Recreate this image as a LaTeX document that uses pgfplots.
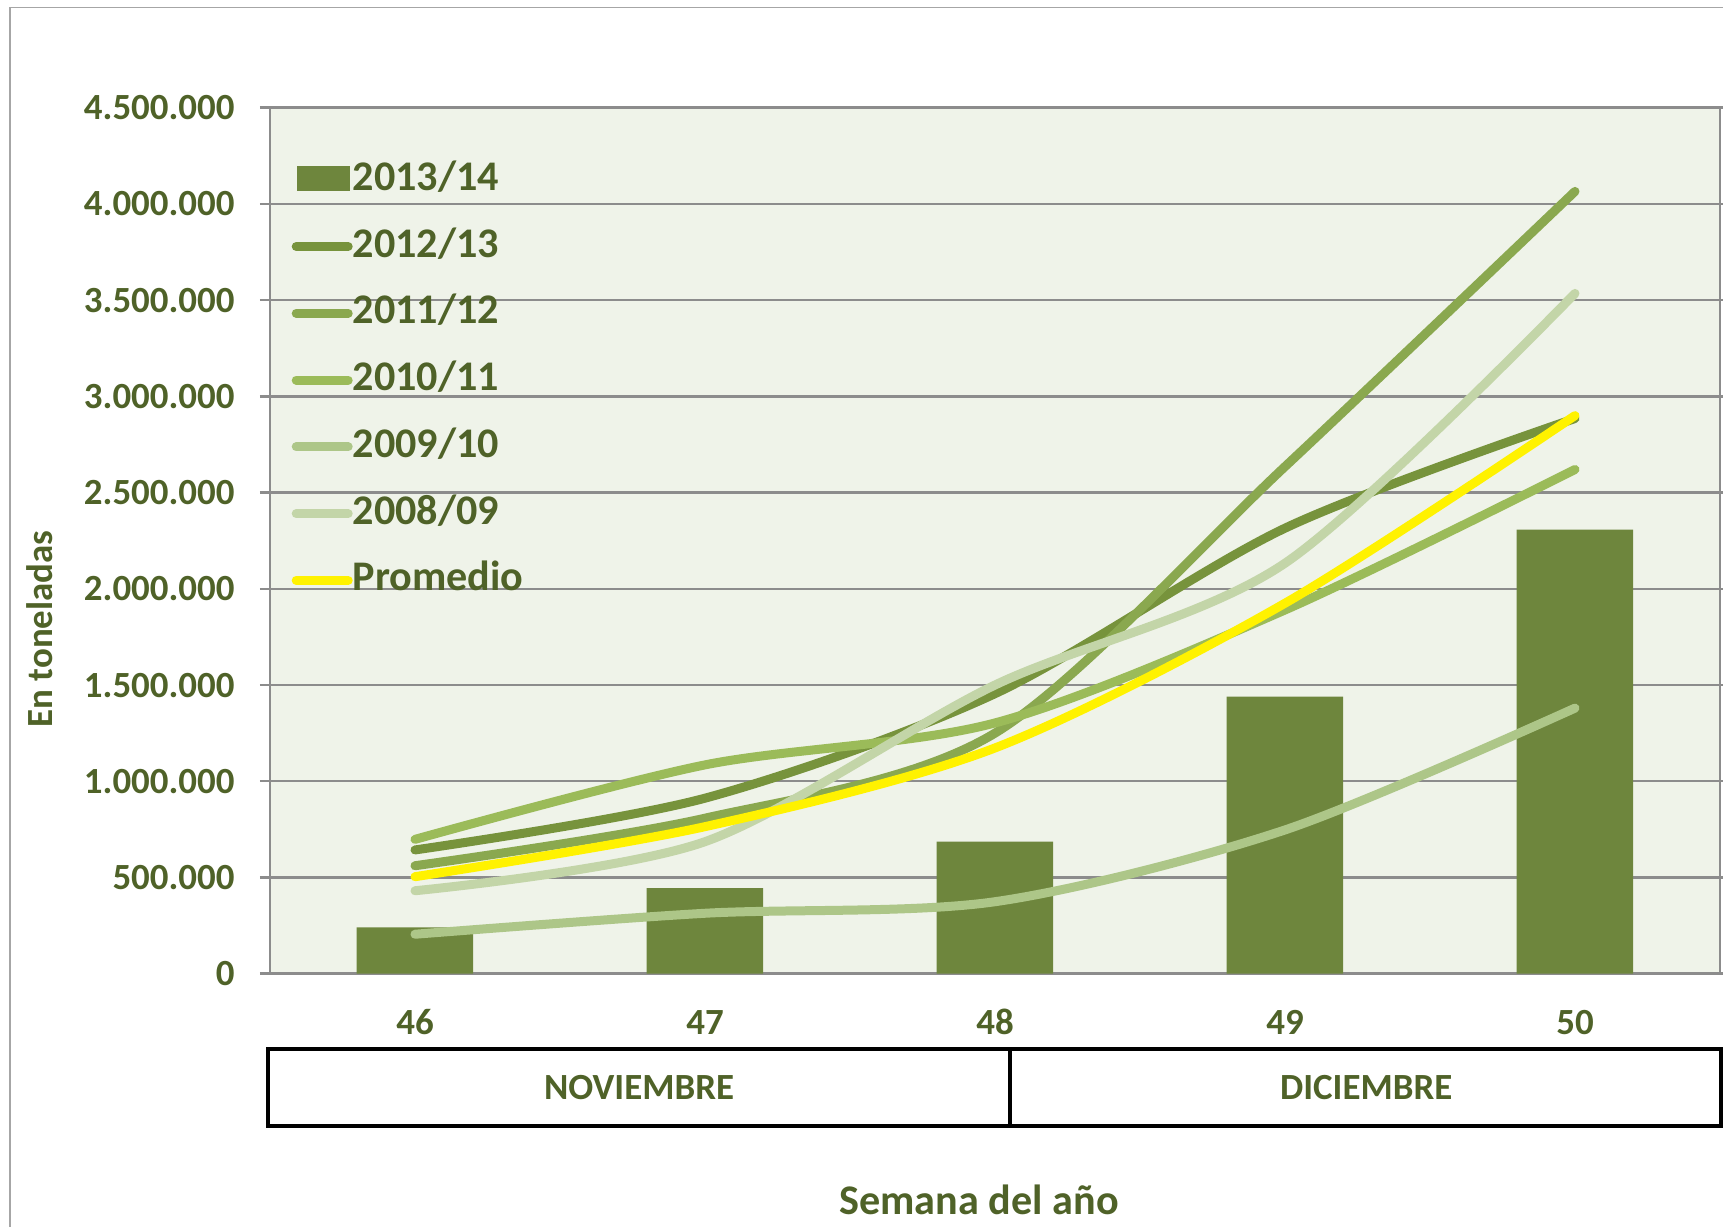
\documentclass[border=0pt]{standalone}
\usepackage{pgfplots}
\pgfplotsset{compat=1.18}
\usepackage{pgfplotstable}
\usepackage{fontspec}
\setmainfont{Carlito}

\definecolor{txt}{HTML}{4F6228}
\definecolor{barc}{HTML}{6E863D}
\definecolor{c1213}{HTML}{77933C}
\definecolor{c1112}{HTML}{8AA84F}
\definecolor{c1011}{HTML}{9BBB59}
\definecolor{c0910}{HTML}{ADC688}
\definecolor{c0809}{HTML}{C3D5A8}
\definecolor{plotbg}{HTML}{EFF3E9}
\definecolor{gridc}{HTML}{8C8C8C}

% toneladas por semana
\pgfplotstableread{
wk t1314   t1213   t1112   t1011   t0910   t0809   prom
46 241000  643000  561000  698000  205000  431000  504000
47 444000  912000  808000  1085000 314000  686000  764000
48 686000  1455000 1250000 1303000 374000  1500000 1173000
49 1440000 2315000 2635000 1890000 747000  2133000 1925000
50 2308000 2885000 4065000 2620000 1380000 3535000 2900000
}\datatable

\begin{document}
\begin{tikzpicture}
\useasboundingbox (0,0) rectangle (172.3mm,122.7mm);
\draw[gray!70, line width=0.4pt] (1.0mm,0) -- (1.0mm,121.95mm) -- (172.3mm,121.95mm);
\begin{axis}[
    at={(27mm,25.33mm)}, anchor=south west,
    scale only axis, width=145mm, height=86.6mm,
    xmin=45.5, xmax=50.5, ymin=0, ymax=4500000,
    clip=false,
    axis background/.style={fill=plotbg},
    axis line style={gridc, line width=0.7pt},
    ymajorgrids, grid style={gridc, line width=0.7pt},
    tick align=outside, major tick length=1mm,
    tick style={gridc, line width=0.7pt},
    scaled y ticks=false,
    ytick={0,500000,1000000,1500000,2000000,2500000,3000000,3500000,4000000,4500000},
    yticklabels={0,500.000,1.000.000,1.500.000,2.000.000,2.500.000,3.000.000,3.500.000,4.000.000,4.500.000},
    xtick={46,47,48,49,50}, xticklabels={46,47,48,49,50},
    xtick style={draw=none},
    extra x ticks={45.5,46.5,47.5,48.5,49.5,50.5}, extra x tick labels={},
    extra x tick style={major tick length=1.2mm, tick style={draw=gridc}},
    /pgf/number format/assume math mode=true,
    tick label style={font=\bfseries\fontsize{10.5}{12.5}\selectfont, text=txt},
    yticklabel style={xshift=-1.3mm},
    xticklabel style={anchor=base, yshift=-5.1mm},
    ylabel={En toneladas},
    every axis y label/.style={at={(axis description cs:-0.1586,0.398)}, rotate=90, anchor=center,
        font=\bfseries\fontsize{10.5}{12}\selectfont, text=txt},
    xlabel={Semana del año},
    every axis x label/.style={at={(axis description cs:0.489,-0.2775)}, anchor=base,
        font=\bfseries\fontsize{12}{14}\selectfont, text=txt},
    legend style={draw=none, fill=none, inner sep=0pt, at={(axis description cs:0.0145,0.942)},
        anchor=north west, row sep=7pt, column sep=0pt,
        nodes={inner sep=0pt, text height=9pt, text depth=3pt, text=txt,
            font=\bfseries\fontsize{12}{14}\selectfont}},
    legend cell align=left,
    legend image code/.code={\draw[#1, line cap=round] (0.3mm,0pt) -- (5.5mm,0pt);},
]
\addplot[ybar, bar width=11.65mm, bar shift=0pt, fill=barc, draw=none,
    legend image code/.code={\fill[barc] (0.4mm,-3.3pt) rectangle (5.7mm,3.8pt);}]
    table[x=wk, y=t1314]{\datatable};
\addlegendentry{2013/14}
\addplot[c1213, line width=0.9mm, smooth, line cap=round] table[x=wk, y=t1213]{\datatable};
\addlegendentry{2012/13}
\addplot[c1112, line width=0.9mm, smooth, line cap=round] table[x=wk, y=t1112]{\datatable};
\addlegendentry{2011/12}
\addplot[c1011, line width=0.9mm, smooth, line cap=round] table[x=wk, y=t1011]{\datatable};
\addlegendentry{2010/11}
\addplot[c0910, line width=0.9mm, smooth, line cap=round] table[x=wk, y=t0910]{\datatable};
\addlegendentry{2009/10}
\addplot[c0809, line width=0.9mm, smooth, line cap=round] table[x=wk, y=t0809]{\datatable};
\addlegendentry{2008/09}
\addplot[yellow, line width=0.9mm, smooth, line cap=round] table[x=wk, y=prom]{\datatable};
\addlegendentry{Promedio}

% meses
\draw[black, line width=1.3pt] (axis description cs:-0.0014,-0.087) rectangle (axis description cs:1.0007,-0.176);
\draw[black, line width=1pt] (axis description cs:0.5103,-0.087) -- (axis description cs:0.5103,-0.176);
\node[font=\bfseries\fontsize{10.5}{12.5}\selectfont, text=txt] at (axis description cs:0.2545,-0.132) {NOVIEMBRE};
\node[font=\bfseries\fontsize{10.5}{12.5}\selectfont, text=txt] at (axis description cs:0.756,-0.132) {DICIEMBRE};
\end{axis}
\end{tikzpicture}
\end{document}
